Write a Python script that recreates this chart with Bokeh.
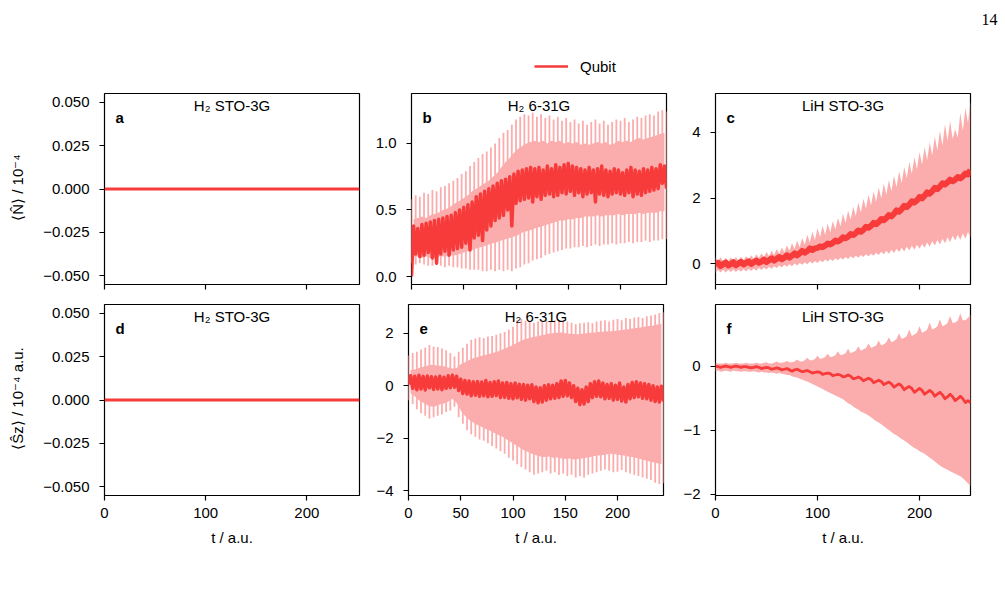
import numpy as np
from bokeh.plotting import figure
from bokeh.layouts import column, row
from bokeh.models import (Range1d, FixedTicker, Label, Legend, LegendItem,
                          CustomLabelingPolicy)
from bokeh.embed import file_html
from bokeh.resources import INLINE

# ---------------- data ----------------
# panels a / d : H2 STO-3G, identically zero
t_h2sto = [0.0, 252.0]
n_h2sto = [0.0, 0.0]
s_h2sto = [0.0, 0.0]

# panels b / e : H2 6-31G, sampled every 2 a.u. (even samples = oscillation peaks, odd = troughs)
t_h2631 = np.arange(0, 245, 2)
n_h2631_mean = [0.00,0.38,0.17,0.36,0.15, 0.39,0.16,0.40,0.18,0.41, 0.14,0.42,0.10,0.43,0.17, 0.44,0.19,0.45,0.16,0.46,
                0.20,0.48,0.21,0.50,0.22, 0.52,0.25,0.54,0.20,0.56, 0.29,0.60,0.31,0.62,0.27, 0.64,0.35,0.66,0.38,0.68,
                0.42,0.70,0.44,0.72,0.46, 0.73,0.50,0.75,0.38,0.77, 0.55,0.79,0.57,0.80,0.58, 0.81,0.59,0.82,0.56,0.81,
                0.60,0.82,0.58,0.80,0.61, 0.83,0.62,0.81,0.60,0.84, 0.61,0.82,0.63,0.84,0.62, 0.85,0.64,0.83,0.61,0.82,
                0.63,0.81,0.60,0.80,0.62, 0.82,0.63,0.80,0.56,0.81, 0.62,0.83,0.61,0.80,0.60, 0.79,0.62,0.81,0.63,0.80,
                0.62,0.78,0.61,0.80,0.63, 0.82,0.60,0.80,0.62,0.79, 0.61,0.81,0.63,0.80,0.64, 0.82,0.65,0.81,0.66,0.84,
                0.70,0.83,0.66]
n_h2631_upper = [0.58,0.43,0.61,0.44,0.60, 0.45,0.63,0.44,0.62,0.46, 0.65,0.47,0.64,0.48,0.67, 0.50,0.68,0.51,0.70,0.53,
                 0.72,0.55,0.74,0.57,0.77, 0.59,0.79,0.61,0.83,0.64, 0.86,0.66,0.89,0.68,0.92, 0.70,0.94,0.72,0.97,0.75,
                 1.00,0.78,1.04,0.82,1.08, 0.86,1.10,0.89,1.14,0.93, 1.18,0.96,1.20,0.98,1.22, 1.00,1.21,1.01,1.23,1.02,
                 1.20,1.01,1.22,1.02,1.19, 1.00,1.21,1.02,1.18,1.01, 1.20,1.02,1.17,1.00,1.19, 1.01,1.16,1.00,1.18,1.01,
                 1.15,0.99,1.17,1.00,1.14, 0.99,1.16,1.00,1.18,1.01, 1.15,1.00,1.17,1.01,1.14, 0.99,1.16,1.00,1.18,1.02,
                 1.17,1.01,1.19,1.02,1.16, 1.01,1.18,1.03,1.20,1.04, 1.19,1.03,1.21,1.04,1.22, 1.05,1.21,1.06,1.24,1.07,
                 1.25,1.08,1.24]
n_h2631_lower = [0.10,0.15,0.09,0.15,0.10, 0.14,0.09,0.15,0.08,0.14, 0.08,0.14,0.09,0.15,0.08, 0.15,0.07,0.15,0.08,0.16,
                 0.07,0.16,0.07,0.17,0.06, 0.18,0.06,0.19,0.05,0.20, 0.05,0.21,0.05,0.22,0.04, 0.23,0.04,0.24,0.05,0.25,
                 0.04,0.26,0.05,0.27,0.04, 0.28,0.05,0.29,0.04,0.30, 0.06,0.31,0.07,0.33,0.09, 0.34,0.10,0.35,0.12,0.36,
                 0.13,0.37,0.14,0.38,0.16, 0.39,0.17,0.40,0.18,0.41, 0.19,0.42,0.20,0.42,0.21, 0.43,0.21,0.43,0.22,0.44,
                 0.22,0.44,0.23,0.45,0.22, 0.45,0.23,0.45,0.24,0.46, 0.23,0.45,0.24,0.46,0.24, 0.46,0.25,0.46,0.24,0.47,
                 0.25,0.46,0.25,0.47,0.26, 0.47,0.25,0.47,0.26,0.48, 0.26,0.47,0.27,0.48,0.26, 0.48,0.27,0.48,0.27,0.49,
                 0.28,0.49,0.28]
s_h2631_mean = [0.05,0.38,-0.10,0.36,-0.15, 0.40,-0.12,0.35,-0.16,0.37, -0.08,0.34,-0.14,0.33,-0.12, 0.36,-0.15,0.32,-0.10,0.38,
                -0.08,0.40,-0.06,0.36,-0.18, 0.25,-0.30,0.20,-0.32,0.18, -0.38,0.15,-0.36,0.16,-0.40, 0.14,-0.38,0.20,-0.42,0.12,
                -0.40,0.15,-0.37,0.18,-0.45, 0.10,-0.44,0.12,-0.48,0.08, -0.50,0.10,-0.46,0.06,-0.52, 0.05,-0.55,0.02,-0.50,0.04,
                -0.60,-0.05,-0.65,-0.08,-0.62, 0.00,-0.55,0.04,-0.50,0.02, -0.48,0.08,-0.45,0.18,-0.40, 0.20,-0.38,0.10,-0.45,0.00,
                -0.60,-0.10,-0.72,-0.15,-0.70, -0.05,-0.60,0.08,-0.45,0.15, -0.40,0.18,-0.42,0.10,-0.50, 0.05,-0.48,0.08,-0.55,0.02,
                -0.52,0.10,-0.58,-0.05,-0.62, 0.05,-0.50,0.12,-0.45,0.15, -0.42,0.10,-0.48,0.08,-0.50, 0.05,-0.55,0.00,-0.60,-0.05,
                -0.62,-0.02,-0.60]
s_h2631_upper = [1.15,0.60,1.25,0.62,1.30, 0.68,1.38,0.72,1.45,0.76, 1.55,0.80,1.50,0.78,1.48, 0.76,1.42,0.74,1.35,0.70,
                 1.25,0.66,1.12,0.68,1.30, 0.82,1.45,0.90,1.60,0.98, 1.75,1.05,1.80,1.10,1.85, 1.14,1.82,1.18,1.88,1.22,
                 1.90,1.27,1.95,1.32,2.00, 1.38,2.05,1.45,2.15,1.52, 2.25,1.60,2.50,1.68,2.55, 1.75,2.48,1.80,2.45,1.85,
                 2.40,1.88,2.45,1.92,2.42, 1.95,2.48,1.98,2.45,2.00, 2.50,2.02,2.52,2.03,2.48, 2.00,2.45,1.98,2.40,1.97,
                 2.35,1.96,2.38,1.98,2.40, 2.00,2.42,2.02,2.38,2.03, 2.45,2.05,2.48,2.06,2.50, 2.08,2.45,2.08,2.52,2.10,
                 2.55,2.12,2.50,2.14,2.58, 2.16,2.55,2.18,2.60,2.20, 2.62,2.22,2.58,2.25,2.65, 2.28,2.68,2.30,2.72,2.34,
                 2.78,2.36,2.80]
s_h2631_lower = [-0.55,-0.30,-0.70,-0.40,-0.90, -0.55,-1.05,-0.65,-1.15,-0.75, -1.25,-0.80,-1.20,-0.78,-1.15, -0.72,-1.10,-0.68,-1.00,-0.60,
                 -0.95,-0.50,-0.80,-0.65,-1.20, -0.95,-1.45,-1.15,-1.70,-1.30, -1.85,-1.40,-1.95,-1.50,-2.05, -1.58,-2.10,-1.65,-2.20,-1.72,
                 -2.30,-1.80,-2.40,-1.88,-2.50, -1.95,-2.60,-2.05,-2.75,-2.15, -2.85,-2.25,-3.00,-2.35,-3.10, -2.45,-3.20,-2.52,-3.30,-2.60,
                 -3.40,-2.65,-3.35,-2.70,-3.30, -2.72,-3.25,-2.70,-3.35,-2.75, -3.30,-2.74,-3.40,-2.78,-3.35, -2.80,-3.45,-2.78,-3.40,-2.82,
                 -3.50,-2.80,-3.45,-2.78,-3.50, -2.75,-3.40,-2.72,-3.35,-2.68, -3.30,-2.66,-3.25,-2.64,-3.20, -2.62,-3.25,-2.60,-3.30,-2.62,
                 -3.28,-2.64,-3.22,-2.66,-3.30, -2.70,-3.35,-2.72,-3.40,-2.76, -3.45,-2.80,-3.50,-2.84,-3.55, -2.88,-3.60,-2.92,-3.70,-2.96,
                 -3.75,-3.00,-3.72]

# panels c / f : LiH STO-3G, sampled every 2.5 a.u.
t_lih = np.arange(101) * 2.5
n_lih_mean = [-0.05,0.02,-0.08,-0.02,0.03, -0.06,-0.02,0.04,-0.05,0.00, 0.05,-0.03,0.02,0.07,-0.01, 0.04,0.09,0.02,0.06,0.12,
              0.05,0.10,0.16,0.09,0.14, 0.20,0.13,0.18,0.25,0.18, 0.24,0.31,0.25,0.31,0.39, 0.33,0.38,0.46,0.41,0.46,
              0.48,0.52,0.50,0.55,0.61, 0.58,0.63,0.70,0.67,0.72, 0.80,0.77,0.82,0.90,0.87, 0.93,1.01,0.97,1.03,1.12,
              1.09,1.15,1.24,1.20,1.27, 1.36,1.32,1.39,1.48,1.44, 1.52,1.62,1.58,1.66,1.76, 1.72,1.80,1.90,1.86,1.93,
              2.03,1.99,2.07,2.17,2.13, 2.21,2.31,2.27,2.35,2.45, 2.41,2.48,2.56,2.51,2.56, 2.64,2.60,2.66,2.75,2.72,
              2.86]
n_lih_upper = [0.20,0.08,0.19,0.07,0.18, 0.08,0.19,0.07,0.20,0.09, 0.21,0.10,0.23,0.12,0.25, 0.14,0.28,0.17,0.31,0.20,
               0.35,0.23,0.39,0.26,0.44, 0.30,0.49,0.34,0.55,0.39, 0.62,0.44,0.70,0.50,0.78, 0.57,0.88,0.64,0.97,0.72,
               1.08,0.80,1.15,0.87,1.22, 0.95,1.30,1.04,1.40,1.14, 1.52,1.24,1.62,1.34,1.74, 1.45,1.86,1.56,1.98,1.68,
               2.10,1.78,2.20,1.88,2.32, 1.99,2.44,2.10,2.55,2.21, 2.68,2.33,2.82,2.46,2.95, 2.60,3.10,2.74,3.25,2.88,
               3.40,3.02,3.55,3.16,3.70, 3.30,3.88,3.45,4.05,3.60, 4.25,3.75,4.35,3.80,4.10, 3.85,4.60,4.05,4.75,4.30,
               4.95]
n_lih_lower = [-0.28,-0.20,-0.27,-0.19,-0.27, -0.19,-0.26,-0.18,-0.26,-0.18, -0.25,-0.17,-0.24,-0.16,-0.23, -0.15,-0.22,-0.13,-0.20,-0.12,
               -0.18,-0.10,-0.16,-0.08,-0.14, -0.06,-0.12,-0.04,-0.10,-0.02, -0.08,0.00,-0.06,0.02,-0.04, 0.04,-0.02,0.06,0.00,0.08,
               0.02,0.10,0.04,0.12,0.06, 0.14,0.08,0.16,0.10,0.18, 0.12,0.20,0.14,0.22,0.16, 0.24,0.18,0.26,0.20,0.28,
               0.22,0.30,0.24,0.33,0.26, 0.36,0.28,0.39,0.30,0.42, 0.32,0.45,0.35,0.48,0.37, 0.51,0.40,0.54,0.42,0.57,
               0.45,0.60,0.48,0.64,0.51, 0.68,0.55,0.72,0.58,0.76, 0.62,0.80,0.65,0.85,0.70, 0.88,0.72,0.92,0.76,0.96,
               0.80]
s_lih_mean = [0.00,-0.01,-0.02,-0.01,0.00, -0.01,-0.02,-0.01,0.00,-0.01, -0.02,-0.01,-0.01,-0.02,-0.03, -0.02,-0.01,-0.02,-0.04,-0.03,
              -0.02,-0.03,-0.05,-0.04,-0.03, -0.04,-0.06,-0.05,-0.04,-0.06, -0.08,-0.06,-0.05,-0.07,-0.09, -0.08,-0.07,-0.09,-0.11,-0.10,
              -0.09,-0.10,-0.13,-0.12,-0.11, -0.12,-0.15,-0.14,-0.13,-0.14, -0.17,-0.16,-0.14,-0.16,-0.20, -0.19,-0.17,-0.19,-0.23,-0.21,
              -0.19,-0.21,-0.26,-0.24,-0.22, -0.24,-0.29,-0.27,-0.25,-0.28, -0.33,-0.30,-0.28,-0.31,-0.37, -0.34,-0.32,-0.35,-0.41,-0.38,
              -0.35,-0.38,-0.44,-0.41,-0.38, -0.41,-0.47,-0.44,-0.41,-0.45, -0.51,-0.48,-0.44,-0.48,-0.54, -0.51,-0.47,-0.51,-0.57,-0.54,
              -0.57]
s_lih_upper = [0.05,0.04,0.04,0.04,0.05, 0.04,0.04,0.04,0.05,0.04, 0.04,0.04,0.05,0.04,0.04, 0.04,0.05,0.04,0.04,0.05,
               0.06,0.04,0.04,0.05,0.07, 0.05,0.05,0.06,0.08,0.06, 0.06,0.07,0.10,0.07,0.07, 0.09,0.13,0.09,0.09,0.11,
               0.16,0.11,0.12,0.14,0.19, 0.14,0.15,0.17,0.23,0.17, 0.18,0.20,0.27,0.20,0.22, 0.24,0.31,0.24,0.26,0.28,
               0.35,0.28,0.30,0.32,0.40, 0.32,0.34,0.37,0.45,0.37, 0.39,0.42,0.51,0.42,0.44, 0.47,0.57,0.47,0.49,0.52,
               0.62,0.52,0.54,0.57,0.68, 0.57,0.59,0.62,0.73,0.62, 0.64,0.67,0.78,0.67,0.68, 0.71,0.82,0.71,0.72,0.75,
               0.80]
s_lih_lower = [-0.08,-0.07,-0.09,-0.08,-0.07, -0.08,-0.09,-0.07,-0.08,-0.08, -0.09,-0.08,-0.08,-0.09,-0.09, -0.08,-0.09,-0.10,-0.09,-0.10,
               -0.10,-0.11,-0.10,-0.11,-0.12, -0.11,-0.12,-0.13,-0.14,-0.14, -0.16,-0.17,-0.18,-0.20,-0.21, -0.23,-0.24,-0.26,-0.28,-0.30,
               -0.32,-0.34,-0.36,-0.38,-0.40, -0.42,-0.44,-0.46,-0.48,-0.50, -0.52,-0.55,-0.58,-0.60,-0.63, -0.66,-0.68,-0.71,-0.73,-0.75,
               -0.77,-0.80,-0.83,-0.86,-0.88, -0.91,-0.94,-0.97,-1.00,-1.03, -1.06,-1.08,-1.11,-1.14,-1.16, -1.19,-1.22,-1.25,-1.28,-1.30,
               -1.33,-1.35,-1.37,-1.40,-1.43, -1.46,-1.49,-1.52,-1.55,-1.58, -1.60,-1.62,-1.64,-1.66,-1.68, -1.70,-1.72,-1.75,-1.79,-1.83,
               -1.87]

for arr in (n_h2631_mean, n_h2631_upper, n_h2631_lower, s_h2631_mean, s_h2631_upper, s_h2631_lower):
    assert len(arr) == len(t_h2631), len(arr)
for arr in (n_lih_mean, n_lih_upper, n_lih_lower, s_lih_mean, s_lih_upper, s_lih_lower):
    assert len(arr) == len(t_lih), len(arr)

# axis ticks / labels
xt_sto = [0, 100, 200];            xl_sto = ["0", "100", "200"]
xt_631 = [0, 50, 100, 150, 200];   xl_631 = ["0", "50", "100", "150", "200"]
yt_a = [-0.05, -0.025, 0.0, 0.025, 0.05]
yl_a = ["\u22120.050", "\u22120.025", "0.000", "0.025", "0.050"]
yt_b = [0.0, 0.5, 1.0];            yl_b = ["0.0", "0.5", "1.0"]
yt_c = [0, 2, 4];                  yl_c = ["0", "2", "4"]
yt_e = [-4, -2, 0, 2];             yl_e = ["\u22124", "\u22122", "0", "2"]
yt_f = [-2, -1, 0];                yl_f = ["\u22122", "\u22121", "0"]

letters = ["a", "b", "c", "d", "e", "f"]
titles = ["H\u2082 STO-3G", "H\u2082 6-31G", "LiH STO-3G", "H\u2082 STO-3G", "H\u2082 6-31G", "LiH STO-3G"]
ylab_top = "\u27e8N\u0302\u27e9 / 10\u207b\u2074"
ylab_bot = "\u27e8S\u0302z\u27e9 / 10\u207b\u2074 a.u."
xlab = "t / a.u."
legend_label = "Qubit"
page_number = "14"

# ---------------- styling ----------------
FONT = "Liberation Sans"
RED = "#f73b3b"
PINK = "#fbadad"
FS = "15px"
FW, FH = 255, 191
TOP_H = 80


def base_fig(x_end, y0, y1, bl, br, bt, bb, xt, xl, yt, yl, show_x):
    p = figure(frame_width=FW, frame_height=FH, x_range=Range1d(0, x_end), y_range=Range1d(y0, y1),
               output_backend="svg", toolbar_location=None,
               min_border_left=bl, min_border_right=br, min_border_top=bt, min_border_bottom=bb)
    p.xgrid.visible = False
    p.ygrid.visible = False
    p.outline_line_color = "black"
    p.outline_line_width = 1.2
    p.outline_line_alpha = 1
    p.background_fill_color = "white"
    p.border_fill_color = "white"
    for ax in (p.xaxis[0], p.yaxis[0]):
        ax.axis_line_color = None
        ax.major_tick_out = 5
        ax.major_tick_in = 0
        ax.minor_tick_out = 0
        ax.minor_tick_in = 0
        ax.major_tick_line_color = "black"
        ax.major_tick_line_width = 1.2
        ax.major_label_text_font = FONT
        ax.major_label_text_font_size = FS
        ax.major_label_text_color = "black"
        ax.axis_label_text_font = FONT
        ax.axis_label_text_font_size = FS
        ax.axis_label_text_font_style = "normal"
        ax.axis_label_text_color = "black"
    p.xaxis[0].ticker = FixedTicker(ticks=xt)
    p.xaxis[0].major_label_overrides = dict(zip(xt, xl))
    p.yaxis[0].ticker = FixedTicker(ticks=yt)
    p.yaxis[0].major_label_overrides = dict(zip(yt, yl))
    p.yaxis[0].major_label_standoff = 10
    if show_x:
        p.xaxis[0].major_label_standoff = 7
        p.xaxis[0].axis_label = xlab
        p.xaxis[0].axis_label_standoff = 8
    else:
        # shared x axis: ticks only, no labels
        p.xaxis[0].major_label_text_font_size = "0px"
        p.xaxis[0].major_label_standoff = 0
        p.xaxis[0].major_label_policy = CustomLabelingPolicy(
            code="for (const i of Array.from(indices)) indices.unset(i); return indices")
    return p


pa = base_fig(252, -0.055, 0.055, 104, 13, 93 - TOP_H, 10, xt_sto, xl_sto, yt_a, yl_a, False)
pb = base_fig(244, -0.06, 1.375, 36, 17, 93 - TOP_H, 10, xt_631, xl_631, yt_b, yl_b, False)
pc = base_fig(250, -0.64, 5.19, 32, 38, 93 - TOP_H, 10, xt_sto, xl_sto, yt_c, yl_c, False)
pd = base_fig(252, -0.055, 0.055, 104, 13, 10, 95, xt_sto, xl_sto, yt_a, yl_a, True)
pe = base_fig(244, -4.19, 3.1, 36, 17, 10, 95, xt_631, xl_631, yt_e, yl_e, True)
pf = base_fig(250, -2.02, 0.96, 32, 38, 10, 95, xt_sto, xl_sto, yt_f, yl_f, True)

pa.yaxis[0].axis_label = ylab_top
pd.yaxis[0].axis_label = ylab_bot
for p in (pa, pd):
    p.yaxis[0].axis_label_standoff = 14

# glyphs
pa.line(t_h2sto, n_h2sto, line_color=RED, line_width=3)
pd.line(t_h2sto, s_h2sto, line_color=RED, line_width=3)


def needle_band(p, t, lower, upper):
    t = np.asarray(t)
    lower = np.asarray(lower)
    upper = np.asarray(upper)
    # solid band between troughs, thin needles up to the peaks
    p.varea(x=t[1::2], y1=lower[1::2], y2=upper[1::2], fill_color=PINK)
    p.segment(x0=t[0::2], y0=lower[0::2], x1=t[0::2], y1=upper[0::2],
              line_color=PINK, line_width=1.8)


needle_band(pb, t_h2631, n_h2631_lower, n_h2631_upper)
pb.line(t_h2631, n_h2631_mean, line_color=RED, line_width=3.5, line_join="round")
needle_band(pe, t_h2631, s_h2631_lower, s_h2631_upper)
pe.line(t_h2631, s_h2631_mean, line_color=RED, line_width=3.5, line_join="round")

pc.varea(x=t_lih, y1=n_lih_lower, y2=n_lih_upper, fill_color=PINK)
pc.line(t_lih, n_lih_mean, line_color=RED, line_width=6, line_join="round")
pf.varea(x=t_lih, y1=s_lih_lower, y2=s_lih_upper, fill_color=PINK)
pf.line(t_lih, s_lih_mean, line_color=RED, line_width=2.8, line_join="round")

# panel letters and titles
for p, let, tit in zip((pa, pb, pc, pd, pe, pf), letters, titles):
    p.add_layout(Label(x=11, y=FH - 24, x_units="screen", y_units="screen", text=let,
                       text_font=FONT, text_font_size=FS, text_font_style="bold",
                       text_color="black", text_baseline="alphabetic"))
    p.add_layout(Label(x=FW / 2, y=FH - 12, x_units="screen", y_units="screen", text=tit,
                       text_font=FONT, text_font_size=FS, text_color="black",
                       text_align="center", text_baseline="alphabetic"))

# ---------------- top strip: legend and page number ----------------
# The strip's y range lies far above the data, so the legend's renderer is
# present (it supplies the legend swatch) but its line is out of view.
top = figure(frame_width=1005, frame_height=TOP_H, x_range=Range1d(0, 1005), y_range=Range1d(100, 100 + TOP_H),
             output_backend="svg", toolbar_location=None, x_axis_location=None, y_axis_location=None,
             min_border=0, min_border_left=0, min_border_right=0, min_border_top=0, min_border_bottom=0)
top.xgrid.visible = False
top.ygrid.visible = False
top.outline_line_color = None
top.background_fill_color = "white"
top.border_fill_color = "white"
legend_line = top.line(t_h2631, n_h2631_mean, line_color=RED, line_width=2.5)
legend = Legend(items=[LegendItem(label=legend_label, renderers=[legend_line])], location=(534, TOP_H - 66 - 9),
                border_line_color=None, background_fill_alpha=0, padding=0, margin=0,
                glyph_width=34, glyph_height=18, label_standoff=12, label_height=18,
                label_text_font=FONT, label_text_font_size=FS, label_text_color="black")
top.add_layout(legend)
top.add_layout(Label(x=989, y=TOP_H - 19, x_units="screen", y_units="screen", text=page_number,
                     text_font="Liberation Serif", text_font_size="16px", text_color="black",
                     text_align="center", text_baseline="alphabetic"))

layout = column(top, row(pa, pb, pc), row(pd, pe, pf))
open("out.html", "w").write(file_html(layout, INLINE))
